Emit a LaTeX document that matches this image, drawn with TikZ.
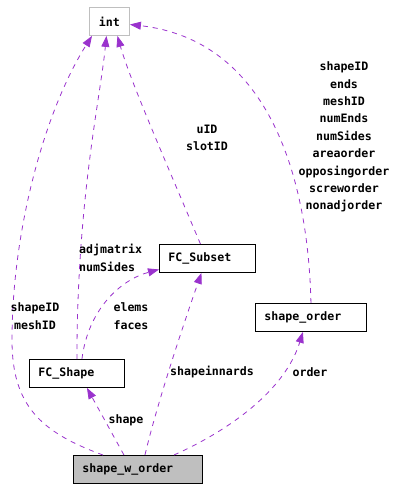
\documentclass[tikz,border=0pt]{standalone}
\usepackage{fontspec}
\setmonofont{DejaVu Sans Mono}
\usetikzlibrary{arrows.meta}
\definecolor{depedge}{RGB}{154,50,205}
\definecolor{boxgray}{RGB}{191,191,191}
\definecolor{ink}{RGB}{0,0,0}

\begin{document}
\begin{tikzpicture}[x=1pt, y=-1pt,
                    cls/.style={draw=ink, line width=0.9pt, minimum height=28pt,
                                inner xsep=9pt, inner ysep=2pt, anchor=north west, align=left,
                                font=\ttfamily\bfseries\fontsize{11.6}{17.4}\selectfont},
                    lbl/.style={inner sep=0pt, align=center,
                                font=\ttfamily\bfseries\fontsize{11.6}{17.4}\selectfont},
                    dep/.style={->, depedge, line width=0.8pt, dash pattern=on 5pt off 5pt},
                    >={Triangle[length=11pt,width=8pt]}]
  \useasboundingbox (0,0) rectangle (408,488);

  % class boxes
  \node[cls, draw=boxgray, text width=22pt, align=center] (int) at (89,7) {int};
  \node[cls, text width=78pt]  (fcsubset)   at (159,244) {FC\_Subset};
  \node[cls, text width=93pt]  (shapeorder) at (255,303) {shape\_order};
  \node[cls, text width=77pt]  (fcshape)    at (29,359)  {FC\_Shape};
  \node[cls, fill=boxgray, text width=111pt] (swo) at (73,455) {shape\_w\_order};

  % usage edges, arrow at the used class
  \draw[dep] ([xshift=-35pt]swo.north) .. controls (40,432) and (12,405) .. (12,340)
             .. controls (12,230) and (45,110) .. ([xshift=3pt]int.south west);
  \draw[dep] (fcshape.north) .. controls (77,200) and (100,100) .. ([xshift=-3pt]int.south);
  \draw[dep] ([xshift=-7pt]fcsubset.north) .. controls (165,160) and (130,80) .. ([xshift=8pt]int.south);
  \draw[dep] (shapeorder.north) .. controls (308,170) and (265,40) .. ([yshift=-3pt]int.east);
  \draw[dep] ([xshift=5pt]fcshape.north) .. controls (88,310) and (120,280) .. ([yshift=-11pt]fcsubset.west);
  \draw[dep] ([xshift=7pt]swo.north) .. controls (158,400) and (185,320) .. ([xshift=-6pt]fcsubset.south);
  \draw[dep] ([xshift=-14pt]swo.north) -- ([xshift=10pt]fcshape.south);
  \draw[dep] ([xshift=36pt]swo.north) .. controls (230,430) and (285,390) .. ([xshift=-8pt]shapeorder.south);

  % member names
  \node[lbl] (ordfields) at (344,137) {shapeID\\ends\\meshID\\numEnds\\numSides\\areaorder\\opposingorder\\screworder\\nonadjorder};
  \node[lbl] (subfields) at (207,138) {uID\\slotID};
  \node[lbl, anchor=west, align=left] (shpfields) at (79,258) {adjmatrix\\numSides};
  \node[lbl] (swofields) at (35,316) {shapeID\\meshID};
  \node[lbl] (elemfields) at (131,316) {elems\\faces};
  \node[lbl] (innlbl) at (212,372) {shapeinnards};
  \node[lbl] (ordlbl) at (310,372) {order};
  \node[lbl] (shplbl) at (126,420) {shape};
\end{tikzpicture}
\end{document}
